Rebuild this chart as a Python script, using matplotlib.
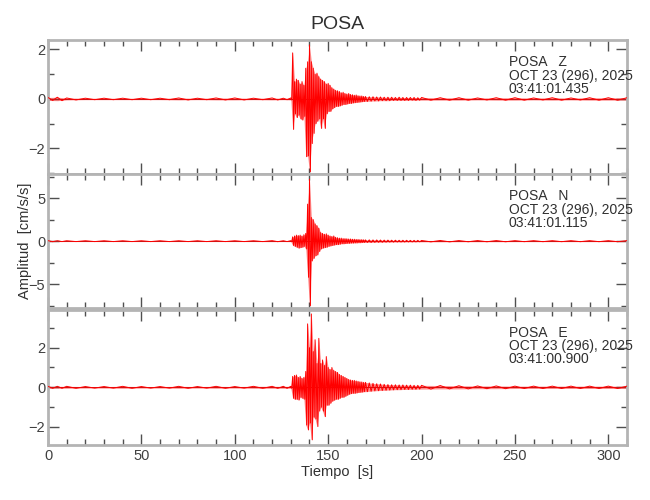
import numpy as np
import matplotlib.pyplot as plt
from matplotlib.ticker import MultipleLocator

plt.rcParams['font.family'] = ['Liberation Sans', 'DejaVu Sans']

# tiempos (s) donde se leyo la envolvente de cada traza
t_env = [0, 5, 10, 20, 30, 40, 50, 60, 70, 80, 90, 100, 110, 120, 126, 130,
         131, 132, 133, 134, 135, 136, 137, 138, 139, 140,
         141, 142, 143, 144, 145, 146, 147, 148, 149, 150,
         151, 152, 153, 154, 155, 156, 157, 158, 159, 160,
         161, 162, 163, 164, 165, 166, 167, 168, 169, 170,
         172, 174, 176, 178, 180, 182, 184, 186, 188, 190, 192, 194, 196, 198, 200,
         210, 220, 230, 240, 250, 260, 270, 280, 290, 300, 310]

# componente Z: picos positivos / negativos
z_hi = [0.06, 0.07, 0.04, 0.03, 0.03, 0.03, 0.03, 0.03, 0.04, 0.03, 0.04, 0.04, 0.03, 0.04, 0.03, 0.04,
        1.86, 0.70, 0.80, 0.75, 0.60, 0.70, 0.55, 1.24, 1.50, 2.18,
        1.50, 1.24, 1.00, 1.04, 0.90, 0.80, 0.75, 0.70, 0.60, 0.63,
        0.55, 0.45, 0.40, 0.35, 0.33, 0.30, 0.25, 0.27, 0.22, 0.20,
        0.22, 0.18, 0.17, 0.15, 0.16, 0.13, 0.12, 0.12, 0.10, 0.10,
        0.09, 0.09, 0.08, 0.08, 0.07, 0.07, 0.07, 0.06, 0.07, 0.06, 0.06, 0.06, 0.06, 0.05, 0.06,
        0.05, 0.05, 0.04, 0.05, 0.05, 0.04, 0.05, 0.04, 0.05, 0.05, 0.05]
z_lo = [-0.06, -0.07, -0.04, -0.03, -0.03, -0.03, -0.03, -0.03, -0.04, -0.03, -0.04, -0.04, -0.03, -0.04, -0.03, -0.04,
        -1.23, -0.60, -0.75, -0.65, -0.80, -0.85, -0.70, -2.33, -2.30, -2.94,
        -1.80, -1.39, -1.00, -0.90, -0.80, -1.19, -0.80, -1.19, -0.60, -0.50,
        -0.50, -0.40, -0.35, -0.30, -0.30, -0.28, -0.25, -0.22, -0.22, -0.20,
        -0.18, -0.18, -0.16, -0.15, -0.14, -0.13, -0.12, -0.11, -0.10, -0.10,
        -0.09, -0.08, -0.08, -0.07, -0.07, -0.07, -0.06, -0.06, -0.06, -0.06, -0.06, -0.05, -0.06, -0.05, -0.05,
        -0.05, -0.05, -0.04, -0.05, -0.05, -0.04, -0.05, -0.04, -0.05, -0.05, -0.05]

# componente N
n_hi = [0.06, 0.05, 0.05, 0.05, 0.05, 0.05, 0.05, 0.05, 0.05, 0.05, 0.05, 0.05, 0.05, 0.06, 0.05, 0.06,
        0.50, 0.60, 0.70, 0.65, 0.70, 0.60, 0.75, 0.90, 4.30, 7.20,
        2.75, 2.50, 2.00, 1.80, 1.50, 1.00, 0.90, 0.80, 0.85, 0.70,
        0.60, 0.55, 0.60, 0.45, 0.40, 0.35, 0.35, 0.30, 0.30, 0.28,
        0.25, 0.25, 0.22, 0.22, 0.20, 0.20, 0.18, 0.18, 0.16, 0.15,
        0.15, 0.14, 0.14, 0.13, 0.12, 0.12, 0.11, 0.11, 0.10, 0.10, 0.10, 0.09, 0.09, 0.09, 0.08,
        0.08, 0.07, 0.07, 0.07, 0.06, 0.06, 0.06, 0.06, 0.06, 0.06, 0.06]
n_lo = [-0.06, -0.05, -0.05, -0.05, -0.05, -0.05, -0.05, -0.05, -0.05, -0.05, -0.05, -0.05, -0.05, -0.06, -0.05, -0.06,
        -0.50, -0.60, -0.70, -0.80, -0.75, -0.70, -0.60, -0.90, -4.20, -7.50,
        -2.30, -2.00, -1.70, -1.60, -1.20, -0.90, -0.80, -0.75, -0.70, -0.60,
        -0.55, -0.50, -0.45, -0.40, -0.40, -0.35, -0.30, -0.30, -0.28, -0.25,
        -0.25, -0.22, -0.22, -0.20, -0.20, -0.18, -0.18, -0.16, -0.15, -0.15,
        -0.15, -0.14, -0.13, -0.13, -0.12, -0.11, -0.11, -0.10, -0.10, -0.10, -0.09, -0.09, -0.09, -0.08, -0.08,
        -0.08, -0.07, -0.07, -0.07, -0.06, -0.06, -0.06, -0.06, -0.06, -0.06, -0.06]

# componente E
e_hi = [0.05, 0.05, 0.05, 0.04, 0.04, 0.05, 0.04, 0.04, 0.05, 0.04, 0.05, 0.04, 0.05, 0.05, 0.05, 0.05,
        0.55, 0.60, 0.62, 0.50, 0.55, 0.45, 0.50, 0.80, 3.20, 2.00,
        3.70, 1.80, 2.40, 1.20, 2.47, 1.20, 1.38, 1.10, 1.55, 1.00,
        0.90, 1.00, 0.85, 0.80, 0.75, 0.65, 0.60, 0.55, 0.50, 0.45,
        0.40, 0.37, 0.35, 0.35, 0.32, 0.30, 0.28, 0.27, 0.25, 0.25,
        0.22, 0.20, 0.18, 0.17, 0.15, 0.14, 0.13, 0.13, 0.12, 0.12, 0.11, 0.11, 0.10, 0.10, 0.10,
        0.09, 0.08, 0.07, 0.07, 0.06, 0.06, 0.06, 0.06, 0.06, 0.06, 0.06]
e_lo = [-0.05, -0.05, -0.05, -0.04, -0.04, -0.05, -0.04, -0.04, -0.05, -0.04, -0.05, -0.04, -0.05, -0.05, -0.05, -0.05,
        -0.55, -0.60, -0.60, -0.64, -0.50, -0.55, -0.60, -1.90, -2.15, -1.80,
        -2.65, -1.50, -1.60, -1.98, -1.20, -1.00, -1.20, -1.48, -0.90, -0.90,
        -0.80, -0.70, -0.65, -0.60, -0.60, -0.55, -0.50, -0.50, -0.45, -0.40,
        -0.35, -0.32, -0.30, -0.30, -0.28, -0.26, -0.25, -0.24, -0.22, -0.22,
        -0.20, -0.18, -0.17, -0.16, -0.15, -0.14, -0.13, -0.12, -0.12, -0.11, -0.11, -0.10, -0.10, -0.09, -0.09,
        -0.08, -0.08, -0.07, -0.07, -0.06, -0.06, -0.06, -0.06, -0.06, -0.06, -0.06]

componentes = ['Z', 'N', 'E']
horas = ['03:41:01.435', '03:41:01.115', '03:41:00.900']
ylims = [(-3.03, 2.38), (-7.8, 7.8), (-2.91, 3.9)]
y_major = [2, 5, 2]
y_minor = [1, 2.5, 1]


def zigzag(t, hi, lo):
    # alterna pico positivo y negativo entre muestras
    t = np.asarray(t, dtype=float)
    mid = (t[:-1] + t[1:]) / 2
    x = np.empty(2 * len(t) - 1)
    y = np.empty(2 * len(t) - 1)
    x[0::2] = t
    x[1::2] = mid
    y[0::2] = hi
    y[1::2] = lo[:-1]
    return x, y


fig = plt.figure(figsize=(6.5, 5), dpi=100)
left, width = 48 / 650, 579 / 650
rects = [(left, 0.652, width, 0.268),
         (left, 0.3834, width, 0.2686),
         (left, 0.11, width, 0.27)]

frame = '#b4b4b4'
tcol = '#505050'
axes = []
for i, (hi, lo) in enumerate([(z_hi, z_lo), (n_hi, n_lo), (e_hi, e_lo)]):
    ax = fig.add_axes(rects[i])
    axes.append(ax)
    x, y = zigzag(t_env, hi, lo)
    ax.axhline(0, color='#8a0000', lw=0.6, zorder=1)
    ax.fill_between(t_env, lo, hi, color='red', alpha=0.45, lw=0, zorder=2)
    ax.plot(x, y, color='red', lw=0.7, zorder=3)
    ax.set_xlim(0, 310)
    ax.set_ylim(*ylims[i])
    ax.xaxis.set_major_locator(MultipleLocator(50))
    ax.xaxis.set_minor_locator(MultipleLocator(10))
    ax.yaxis.set_major_locator(MultipleLocator(y_major[i]))
    ax.yaxis.set_minor_locator(MultipleLocator(y_minor[i]))
    for s in ax.spines.values():
        s.set_color(frame)
        s.set_linewidth(2)
    ax.tick_params(which='both', direction='in', top=True, right=True,
                   color=tcol, labelcolor='#404040', labelsize=10.5)
    ax.tick_params(which='major', length=8, width=1)
    ax.tick_params(which='minor', length=4, width=1)
    ax.tick_params(axis='y', pad=2)
    ax.tick_params(axis='x', pad=3)
    if i < 2:
        ax.tick_params(axis='x', labelbottom=False)
    ax.text(0.796, 0.885, 'POSA   %s\nOCT 23 (296), 2025\n%s' % (componentes[i], horas[i]),
            transform=ax.transAxes, ha='left', va='top', fontsize=10,
            linespacing=0.95, color='#303030')

axes[0].set_title('POSA', fontsize=14, color='#303030', pad=8)
axes[1].set_ylabel('Amplitud  [cm/s/s]', fontsize=10.5, color='#303030')
axes[1].yaxis.set_label_coords(-0.027, 0.5)
axes[2].set_xlabel('Tiempo  [s]', fontsize=10.5, color='#303030')
axes[2].xaxis.set_label_coords(0.5, -0.15)

fig.savefig('out.png', dpi=100)
